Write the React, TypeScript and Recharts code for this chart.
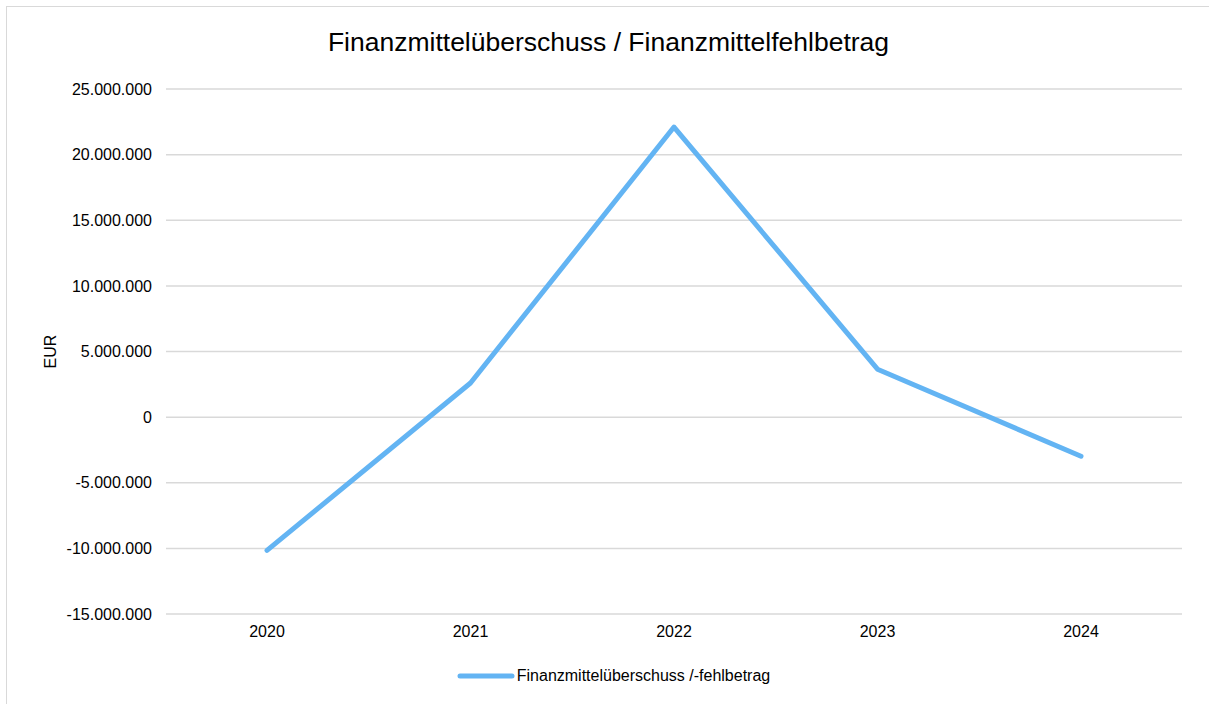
import { LineChart, Line, XAxis, YAxis, CartesianGrid, Legend } from 'recharts';

const years = ['2020', '2021', '2022', '2023', '2024'];
const saldo = [-10150000, 2600000, 22100000, 3650000, -2980000];
const yTicks = [-15000000, -10000000, -5000000, 0, 5000000, 10000000, 15000000, 20000000, 25000000];

const seriesName = 'Finanzmittelüberschuss /-fehlbetrag';
const title = 'Finanzmittelüberschuss / Finanzmittelfehlbetrag';
const lineColor = '#63b4f3';
const font = '"Liberation Sans", Arial, sans-serif';

const data = years.map((year, i) => ({ year, value: saldo[i] }));

// 1.000.000 style, regardless of the browser locale
const fmt = (v: number) => {
  const s = Math.abs(v).toString().replace(/\B(?=(\d{3})+(?!\d))/g, '.');
  return v < 0 ? '-' + s : s;
};

const LegendContent = () => (
  <div style={{ display: 'flex', justifyContent: 'center', alignItems: 'center', fontFamily: font, fontSize: 16, color: '#000' }}>
    <svg width={58} height={10} style={{ marginRight: 2 }}>
      <line x1={3} y1={5} x2={55} y2={5} stroke={lineColor} strokeWidth={5} strokeLinecap="round" />
    </svg>
    <span>{seriesName}</span>
  </div>
);

const App = () => {
  return (
    <div
      style={{
        position: 'absolute',
        left: 6,
        top: 6,
        width: 1210,
        height: 705,
        border: '1px solid #d9d9d9',
        background: '#fff',
        fontFamily: font,
      }}
    >
      <div style={{ position: 'absolute', left: 0, width: 1203, top: 20, textAlign: 'center', fontSize: 26.5, color: '#000' }}>
        {title}
      </div>
      <LineChart width={1203} height={697} data={data} margin={{ top: 82, right: 28, left: 0, bottom: 0 }}>
        <CartesianGrid vertical={false} stroke="#d9d9d9" strokeWidth={1.5} />
        <XAxis
          dataKey="year"
          axisLine={false}
          tickLine={false}
          tickMargin={6}
          height={72}
          padding={{ left: 101, right: 101 }}
          tick={{ fontSize: 16, fill: '#000', fontFamily: font }}
        />
        <YAxis
          domain={[-15000000, 25000000]}
          ticks={yTicks}
          tickFormatter={fmt}
          axisLine={false}
          tickLine={false}
          tickMargin={8}
          width={159}
          tick={{ fontSize: 16, fill: '#000', fontFamily: font }}
          label={({ viewBox }: any) => {
            const cy = viewBox.y + viewBox.height / 2;
            return (
              <text x={43} y={cy} transform={`rotate(-90 43 ${cy})`} textAnchor="middle" dominantBaseline="central" fontSize={16} fill="#000" fontFamily={font}>
                EUR
              </text>
            );
          }}
        />
        <Legend verticalAlign="bottom" content={<LegendContent />} wrapperStyle={{ bottom: 19, left: 5, width: 1203 }} />
        <Line
          dataKey="value"
          name={seriesName}
          stroke={lineColor}
          strokeWidth={5}
          strokeLinecap="round"
          strokeLinejoin="round"
          dot={false}
          activeDot={false}
          isAnimationActive={false}
        />
      </LineChart>
    </div>
  );
};

export default App;
